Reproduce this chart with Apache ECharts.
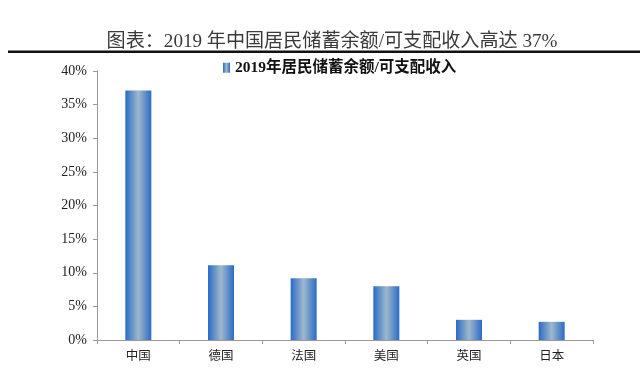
<!DOCTYPE html>
<html><head><meta charset="utf-8">
<script src="https://cdn.jsdelivr.net/npm/echarts@6/dist/echarts.min.js"></script>
<style>html,body{margin:0;padding:0;background:#fff}#c{width:640px;height:368px}</style>
</head><body><div id="c"></div>
<script>
const categories = ['中国','德国','法国','美国','英国','日本'];
const savingsRatio = [37.1, 11.1, 9.2, 8.0, 3.0, 2.7];
const seriesName = '2019年居民储蓄余额/可支配收入';
const titleText = '图表：2019 年中国居民储蓄余额/可支配收入高达 37%';

const chart = echarts.init(document.getElementById('c'));
const grad = new echarts.graphic.LinearGradient(0,0,1,0,[
  {offset:0,color:'#2a6bc6'},
  {offset:0.5,color:'#9fb8cc'},
  {offset:1,color:'#2a6bc6'}
]);
chart.setOption({
  animation:false,
  title:{text:titleText,left:327,textAlign:'center',top:27,
    textStyle:{fontFamily:'"Liberation Serif","Noto Sans CJK SC",serif',fontSize:19.1,fontWeight:'normal',color:'#3a3a3a'}},
  graphic:[{type:'rect',shape:{x:8,y:50.5,width:632,height:2.5},style:{fill:'#111'}}],
  legend:{top:55,left:218,itemWidth:7,itemHeight:10,itemGap:4,
    data:[{name:seriesName,icon:'rect'}],
    textStyle:{fontFamily:'"Liberation Serif","Noto Sans CJK SC",serif',fontSize:15.5,fontWeight:'bold',color:'#111'}},
  grid:{left:97,right:47,top:71,bottom:28},
  xAxis:{type:'category',data:categories,
    axisLine:{lineStyle:{color:'#999'}},
    axisTick:{show:true,length:4,lineStyle:{color:'#999'}},
    axisLabel:{color:'#222',fontSize:12.5,margin:9,fontFamily:'"Noto Sans CJK SC",serif'}},
  yAxis:{type:'value',min:0,max:40,interval:5,
    axisLine:{show:true,lineStyle:{color:'#999'}},
    axisTick:{show:true,length:4,lineStyle:{color:'#999'}},
    splitLine:{show:false},
    axisLabel:{formatter:'{value}%',color:'#222',fontSize:14,margin:10,fontFamily:'"Liberation Serif",serif'}},
  series:[{name:seriesName,type:'bar',data:savingsRatio,barWidth:26,
    itemStyle:{color:grad}}]
});
</script></body></html>
